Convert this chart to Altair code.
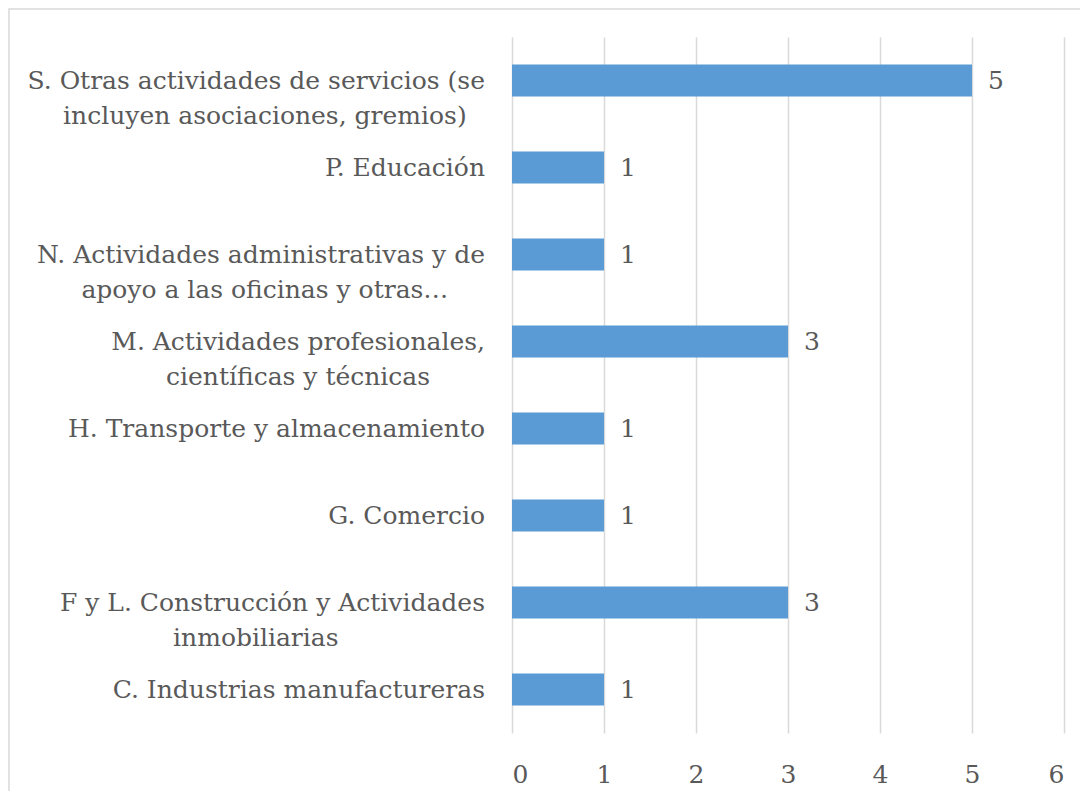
import altair as alt
import pandas as pd

PAD = "\u2800"

labels = [
    "S. Otras actividades de servicios (se\nincluyen asociaciones, gremios)" + PAD * 1,
    "P. Educación",
    "N. Actividades administrativas y de\napoyo a las oficinas y otras…" + PAD * 2,
    "M. Actividades profesionales,\ncientíficas y técnicas" + PAD * 3,
    "H. Transporte y almacenamiento",
    "G. Comercio",
    "F y L. Construcción y Actividades\ninmobiliarias" + PAD * 8,
    "C. Industrias manufactureras",
]
values = [5, 1, 1, 3, 1, 1, 3, 1]
ticks = [0, 1, 2, 3, 4, 5, 6]

df = pd.DataFrame({"label": labels, "value": values})

FONT = "DejaVu Serif"
TXT = "#595959"
FS = 25

y_enc = alt.Y(
    "label:N",
    sort=None,
    axis=None,
    scale=alt.Scale(paddingInner=0.63, paddingOuter=0.315),
)

base = alt.Chart(df)

bars = base.mark_bar(color="#5b9bd5").encode(
    x=alt.X(
        "value:Q",
        scale=alt.Scale(domain=[0, 6], nice=False),
        axis=alt.Axis(
            values=ticks,
            format="d",
            grid=True,
            ticks=False,
            domain=False,
            labelFontSize=FS,
            labelFont=FONT,
            labelColor=TXT,
            labelPadding=29,
            gridColor="#d9d9d9",
            gridWidth=1.5,
            title=None,
        ),
    ),
    y=y_enc,
)

value_text = base.mark_text(
    align="left", baseline="middle", dx=16, font=FONT, fontSize=FS, color=TXT
).encode(x="value:Q", y=y_enc, text="value:Q")

cat_text = base.mark_text(
    align="right",
    baseline="middle",
    font=FONT,
    fontSize=FS,
    color=TXT,
    lineBreak="\n",
    lineHeight=35,
).encode(x=alt.value(-27), y=y_enc, text="label:N")

border = alt.Chart(alt.Data(values=[{}])).mark_rect(
    fill=None, stroke="#d9d9d9", strokeWidth=1.5
).encode(
    x=alt.value(-503),
    x2=alt.value(620),
    y=alt.value(-28),
    y2=alt.value(800),
)

chart = (
    alt.layer(border, bars, value_text, cat_text)
    .properties(
        width=552,
        height=696,
        autosize=alt.AutoSizeParams(type="none"),
        padding={"left": 504, "top": 29, "right": 16, "bottom": 58},
        background="white",
    )
    .configure_view(stroke=None)
)

chart.save("out.html", embed_options={"renderer": "svg", "actions": False})
